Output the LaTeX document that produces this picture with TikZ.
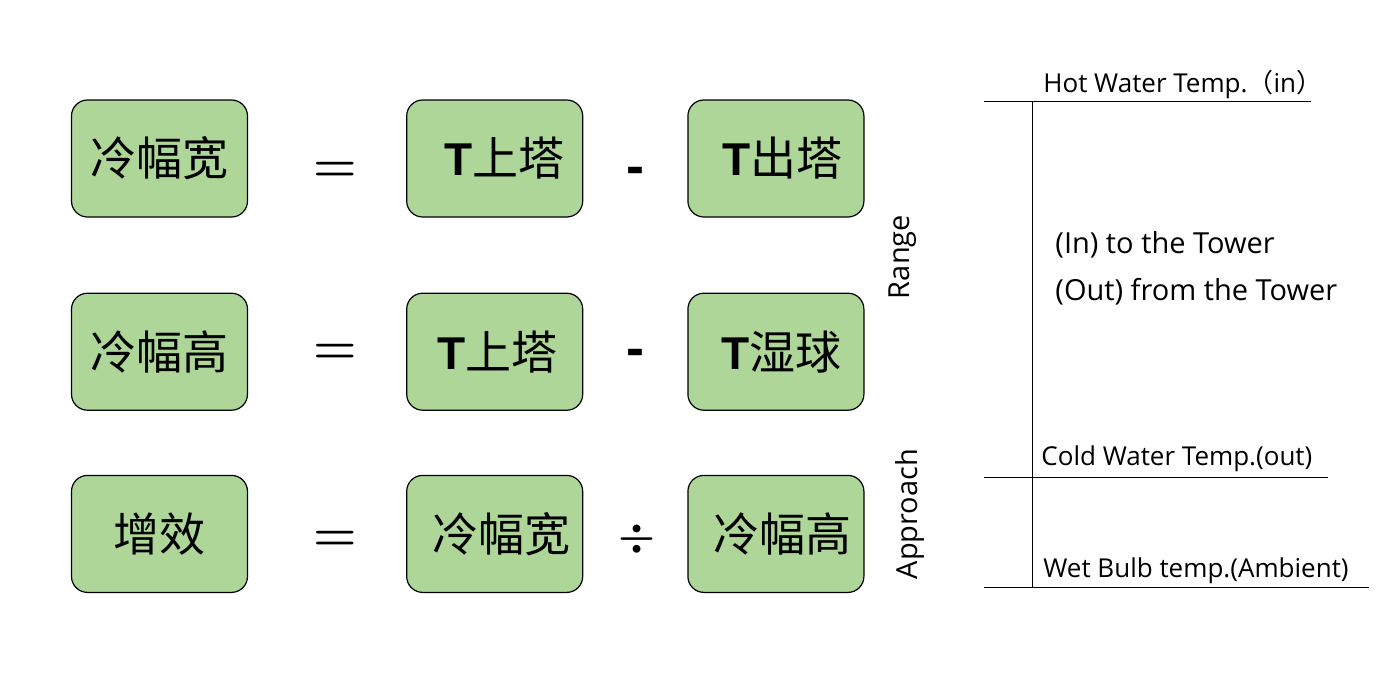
\documentclass[tikz,border=0pt]{standalone}
\usepackage{fontspec}
\setmainfont{Open Sans}
\newfontfamily\cjk{Noto Sans CJK SC}
\newfontfamily\arial{Liberation Sans}
\usetikzlibrary{positioning}
\definecolor{boxgreen}{RGB}{173,214,152}
\newcommand{\tee}{{\arial\bfseries T}}

\begin{document}
\begin{tikzpicture}[
  x=0.5pt, y=-0.5pt,
  box/.style={draw, line width=0.6pt, fill=boxgreen, rounded corners=8pt, minimum width=88pt, minimum height=58.5pt, inner sep=0pt, font=\cjk\fontsize{23}{27}\selectfont},
  shifted/.style={execute at begin node={\hspace*{#1}}},
  op/.style={inner sep=0pt, font=\boldmath\fontsize{23}{28}\selectfont},
  minusop/.style={inner sep=0pt, font=\arial\bfseries\fontsize{27}{30}\selectfont},
  side/.style={inner sep=0pt, font=\fontsize{14.5}{17}\selectfont},
  temp/.style={inner sep=0pt, anchor=base west, font=\fontsize{13}{16}\selectfont},
  tower/.style={inner sep=0pt, anchor=base west, font=\fontsize{14.5}{17}\selectfont},
  scale line/.style={line width=0.5pt}
]
\useasboundingbox (0,0) rectangle (1400,691);

% ROW 1
\node[box] (wide) at (159.5,158.5) {冷幅宽};
\node[box, shifted=10pt, right=79pt of wide] (tin1) {\tee 上塔};
\node[box, shifted=6.5pt, right=52pt of tin1] (tout) {\tee 出塔};
\node[op] (eq1) at (335,172) {$=$};
\node[minusop] (sub1) at (635,176) {-};

% ROW 2
\node[box, below=37.5pt of wide] (high) {冷幅高};
\node[box, shifted=3pt, right=79pt of high] (tin2) {\tee 上塔};
\node[box, shifted=5.5pt, right=52pt of tin2] (twet) {\tee 湿球};
\node[op] (eq2) at (335,354) {$=$};
\node[minusop] (sub2) at (635,358) {-};

% ROW 3
\node[box, below=32pt of high] (gain) {增效};
\node[box, shifted=7pt, right=79pt of gain] (wide2) {冷幅宽};
\node[box, shifted=7pt, right=52pt of wide2] (high2) {冷幅高};
\node[op] (eq3) at (335,541) {$=$};
\node[op, font=\boldmath\fontsize{22}{26}\selectfont] (div) at (637,539) {$\div$};

% SIDE LABELS
\node[side, rotate=90] (range) at (903,257) {Range};
\node[side, rotate=90] (approach) at (910,514) {Approach};

% TEMPERATURE SCALE
\coordinate (hotL) at (984,101);
\coordinate (hotR) at (1311,101);
\coordinate (coldL) at (984,477);
\coordinate (coldR) at (1328,477);
\coordinate (wetL) at (984,587);
\coordinate (wetR) at (1369,587);
\coordinate (axisT) at (1032,101);
\coordinate (axisB) at (1032,587);
\draw[scale line] (hotL) -- (hotR);
\draw[scale line] (coldL) -- (coldR);
\draw[scale line] (wetL) -- (wetR);
\draw[scale line] (axisT) -- (axisB);

\node[temp] (hot) at (1043,92) {Hot Water Temp.{\cjk （}in{\cjk ）}};
\node[temp] (cold) at (1041,465) {Cold Water Temp.(out)};
\node[temp] (wet) at (1043,577) {Wet Bulb temp.(Ambient)};
\node[tower] (intower) at (1055,253) {(In) to the Tower};
\node[tower] (outtower) at (1055,300) {(Out) from the Tower};

\end{tikzpicture}
\end{document}
